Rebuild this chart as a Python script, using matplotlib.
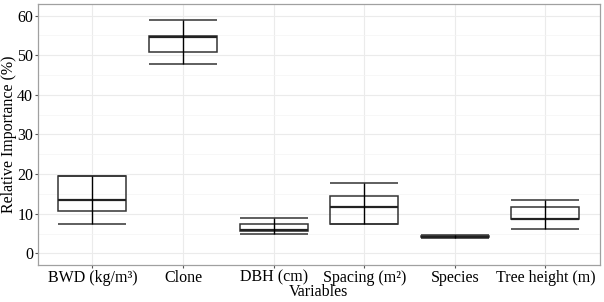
import matplotlib.pyplot as plt
import numpy as np

variables = ["BWD (kg/m³)", "Clone", "DBH (cm)", "Spacing (m²)", "Species", "Tree height (m)"]
ymin = [7.5, 47.7, 4.9, 7.5, 3.9, 6.2]
q1 = [10.6, 50.8, 5.6, 7.5, 4.0, 8.6]
median = [13.4, 54.7, 6.0, 11.8, 4.2, 8.7]
q3 = [19.5, 54.9, 7.3, 14.5, 4.4, 11.8]
ymax = [19.5, 58.9, 8.8, 17.7, 4.5, 13.5]

plt.rcParams['font.family'] = ['Liberation Serif', 'DejaVu Serif']

fig = plt.figure(figsize=(6.04, 3.02), dpi=100)
ax = fig.add_axes([0.063, 0.1225, 0.930, 0.8645])

x = np.arange(1, len(variables) + 1)
half = 0.375
box_col = "#333333"

for i, xi in enumerate(x):
    # whisker caps spanning full width
    ax.hlines([ymin[i], ymax[i]], xi - half, xi + half, color=box_col, lw=1.1, zorder=3)
    # box
    ax.add_patch(plt.Rectangle((xi - half, q1[i]), 2 * half, q3[i] - q1[i],
                               fill=False, edgecolor=box_col, lw=1.1, zorder=3))
    # median
    ax.hlines(median[i], xi - half, xi + half, color="#222222", lw=1.6, zorder=4)
    # vertical line
    ax.vlines(xi, ymin[i], ymax[i], color="black", lw=1.0, zorder=4)

ax.set_xlim(0.4, 6.6)
ax.set_ylim(-2.95, 62.95)
ax.set_xticks(x)
ax.set_xticklabels(variables)
ax.set_yticks(np.arange(0, 61, 10))
ax.set_yticks(np.arange(5, 61, 10), minor=True)

ax.grid(True, which="major", color="#ebebeb", lw=0.8, zorder=0)
ax.grid(True, which="minor", axis="y", color="#f4f4f4", lw=0.5, zorder=0)
ax.set_axisbelow(True)
for s in ax.spines.values():
    s.set_color("#a0a0a0")
    s.set_linewidth(0.9)

ax.tick_params(axis="both", which="major", length=2, color="#555555", labelsize=11.5, labelcolor="black", pad=1.5)
ax.tick_params(axis="y", which="minor", length=0)

ax.set_xlabel("Variables", fontsize=11.5, labelpad=-1)
ax.set_ylabel("Relative Importance (%)", fontsize=11.5, labelpad=0)

fig.savefig("out.png", dpi=100)
